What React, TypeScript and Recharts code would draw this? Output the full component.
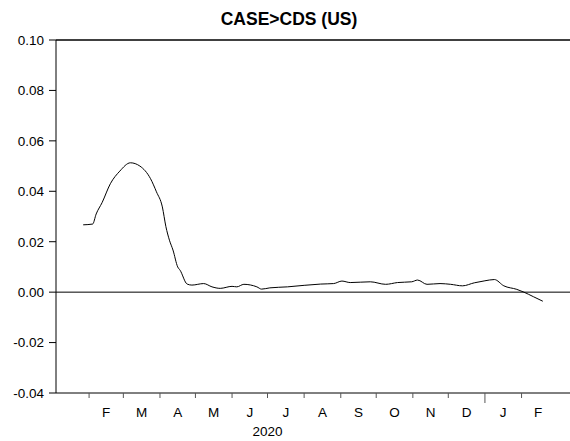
import React from "react";
import { LineChart, Line, XAxis, YAxis, ReferenceLine } from "recharts";

// day index counted from 2020-01-01
const days = [
  26, 34, 37, 42, 49, 57, 66, 74, 83, 88, 93, 96, 99, 102, 106, 108, 114, 118,
  128, 135, 142, 152, 156, 162, 173, 177, 184, 199, 213, 227, 238, 245, 252,
  269, 282, 292, 304, 309, 317, 328, 337, 347, 357, 366, 374, 382, 393, 399,
  407, 415,
];
const values = [
  0.0267, 0.027, 0.031, 0.0355, 0.043, 0.048, 0.0513, 0.05, 0.045, 0.0398,
  0.0338, 0.026, 0.0206, 0.0167, 0.01, 0.0087, 0.0032, 0.0028, 0.0034, 0.0021,
  0.0015, 0.0023, 0.0021, 0.0031, 0.0021, 0.0012, 0.0017, 0.0021, 0.0027,
  0.0032, 0.0034, 0.0044, 0.0038, 0.0041, 0.0031, 0.0038, 0.0041, 0.0048,
  0.0031, 0.0034, 0.0031, 0.0025, 0.0037, 0.0045, 0.005, 0.0025, 0.0011, 0.0,
  -0.0018, -0.0036,
];

const monthStarts = [31, 60, 91, 121, 152, 182, 213, 244, 274, 305, 335, 366, 397];
const lastMonthEnd = 425;
const monthLabels = ["F", "M", "A", "M", "J", "J", "A", "S", "O", "N", "D", "J", "F"];
const yearBreak = 366;
const yearLabel = "2020";
const yearLabelDay = 182;
const yTicks = [-0.04, -0.02, 0, 0.02, 0.04, 0.06, 0.08, 0.1];

const data = days.map((d, i) => ({ day: d, value: values[i] }));
const monthMids = monthStarts.map((s, i) =>
  (s + (i + 1 < monthStarts.length ? monthStarts[i + 1] : lastMonthEnd)) / 2
);
const xTicks = [...monthStarts, ...monthMids].sort((a, b) => a - b);

const font = "'Liberation Sans', Arial, sans-serif";

function MonthTick(props: any) {
  const { x, y, payload } = props;
  const v = payload.value;
  const startIdx = monthStarts.indexOf(v);
  if (startIdx >= 0) {
    return (
      <g>
        <line x1={x} x2={x} y1={y} y2={y + (v === yearBreak ? 10 : 5)} stroke="#555" strokeWidth={1} />
        {v === yearLabelDay && (
          <text x={x} y={y + 43} textAnchor="middle" fontSize={13.5} fontFamily={font} fill="#000">
            {yearLabel}
          </text>
        )}
      </g>
    );
  }
  const midIdx = monthMids.indexOf(v);
  return (
    <text x={x} y={y + 24} textAnchor="middle" fontSize={13.5} fontFamily={font} fill="#000">
      {monthLabels[midIdx]}
    </text>
  );
}

export default function App() {
  return (
    <div style={{ position: "absolute", left: 0, top: 0, width: 570, height: 441, background: "#fff" }}>
      <div
        style={{
          position: "absolute",
          left: 0,
          top: 9,
          width: 578,
          textAlign: "center",
          fontFamily: font,
          fontWeight: "bold",
          fontSize: 17.5,
          color: "#000",
        }}
      >
        CASE&gt;CDS (US)
      </div>
      <LineChart width={570} height={441} data={data} margin={{ top: 40, right: 0, bottom: 0, left: 0 }}>
        <XAxis
          dataKey="day"
          type="number"
          domain={[3, 438]}
          ticks={xTicks}
          interval={0}
          tick={<MonthTick />}
          tickLine={false}
          tickSize={0}
          tickMargin={0}
          height={48}
          axisLine={{ stroke: "#000", strokeWidth: 1 }}
          allowDataOverflow
        />
        <YAxis
          type="number"
          domain={[-0.04, 0.1]}
          ticks={yTicks}
          interval={0}
          width={56}
          tickSize={7}
          tickMargin={5}
          tickFormatter={(v: number) => v.toFixed(2)}
          tick={{ fill: "#000", fontSize: 13.5, fontFamily: font }}
          tickLine={{ stroke: "#000" }}
          axisLine={{ stroke: "#000", strokeWidth: 1 }}
          allowDataOverflow
        />
        <ReferenceLine y={0.1} stroke="#000" strokeWidth={1.5} />
        <ReferenceLine y={0} stroke="#000" strokeWidth={1} />
        <Line
          dataKey="value"
          type="monotone"
          stroke="#000"
          strokeWidth={1}
          dot={false}
          isAnimationActive={false}
        />
      </LineChart>
    </div>
  );
}
